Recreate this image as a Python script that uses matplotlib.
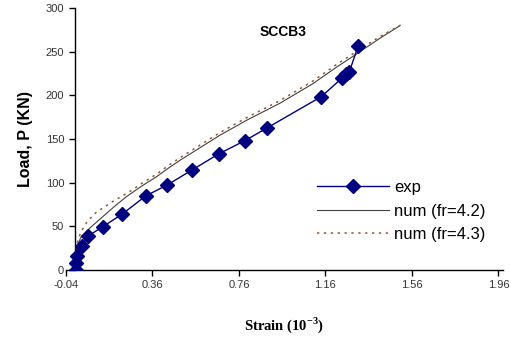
import matplotlib
matplotlib.use("Agg")
import matplotlib.pyplot as plt

# experimental load-strain points
exp_strain = [0.008, 0.008, 0.009, 0.033, 0.063, 0.13, 0.22, 0.33, 0.426, 0.543,
              0.667, 0.787, 0.889, 1.141, 1.238, 1.257, 1.27, 1.311]
exp_load = [0, 8, 16, 27.5, 39, 49.5, 64, 85, 97, 114.5,
            133, 148, 162.5, 198.5, 220, 224, 226.5, 256.5]

# numerical, fr=4.2
num42_strain = [0, 0.01, 0.03, 0.07, 0.13, 0.19, 0.24, 0.31, 0.38, 0.43, 0.49,
                0.58, 0.67, 0.8, 0.95, 1.1, 1.21, 1.29, 1.41, 1.5]
num42_load = [0, 26, 38, 48, 61, 74, 84, 96, 107, 116, 126,
              140, 154, 172, 191, 213, 232, 245, 265, 279]

# numerical, fr=4.3
num43_strain = [0, 0.01, 0.03, 0.06, 0.1, 0.18, 0.25, 0.31, 0.38, 0.43, 0.49,
                0.58, 0.67, 0.8, 0.95, 1.1, 1.21, 1.29, 1.41, 1.52]
num43_load = [0, 30, 44, 56, 66, 79, 89, 99, 110, 119, 129,
              143, 157, 175, 194, 216, 235, 248, 267, 282]

xticks = [-0.04, 0.36, 0.76, 1.16, 1.56, 1.96]
yticks = [0, 50, 100, 150, 200, 250, 300]

fig = plt.figure(figsize=(5.11, 3.44), dpi=100)
ax = fig.add_axes([0.129, 0.215, 0.855, 0.762])

ax.plot(exp_strain, exp_load, color="#000080", lw=1.0, marker="D",
        markersize=7, label="exp", zorder=3)
ax.plot(num42_strain, num42_load, color="#404040", lw=0.8,
        label="num (fr=4.2)", zorder=2)
ax.plot(num43_strain, num43_load, color="#a0522d", lw=1.1, ls=(0, (1.5, 3)),
        label="num (fr=4.3)", zorder=2)

ax.set_xlim(-0.04, 1.98)
ax.set_ylim(0, 300)
ax.set_xticks(xticks)
ax.set_xticklabels(["%.2f" % v for v in xticks])
ax.set_yticks(yticks)

ax.spines["top"].set_visible(False)
ax.spines["right"].set_visible(False)
ax.spines["left"].set_position(("data", 0))
for s in ["left", "bottom"]:
    ax.spines[s].set_linewidth(1.0)

ax.tick_params(axis="both", direction="out", length=4, width=1,
               labelsize=8, colors="black", labelcolor="#333333")
for lab in ax.get_xticklabels() + ax.get_yticklabels():
    lab.set_family("Liberation Sans")

ax.set_xlabel("Strain (10$^{\\mathregular{-3}}$)", family="Liberation Serif",
              fontweight="bold", fontsize=10.5, labelpad=18)
ax.set_ylabel("Load, P (KN)", family="Liberation Sans",
              fontweight="bold", fontsize=11.5)
ax.yaxis.set_label_coords(-0.075, 0.5)

ax.text(0.497, 0.91, "SCCB3", transform=ax.transAxes, ha="center",
        va="center", family="Liberation Sans", fontweight="bold", fontsize=10)

leg = ax.legend(loc="lower right", bbox_to_anchor=(0.995, 0.05), frameon=False,
                prop={"family": "Liberation Sans", "size": 12},
                handlelength=4.3, handletextpad=0.3, labelspacing=0.5)

fig.savefig("out.png", dpi=100)
